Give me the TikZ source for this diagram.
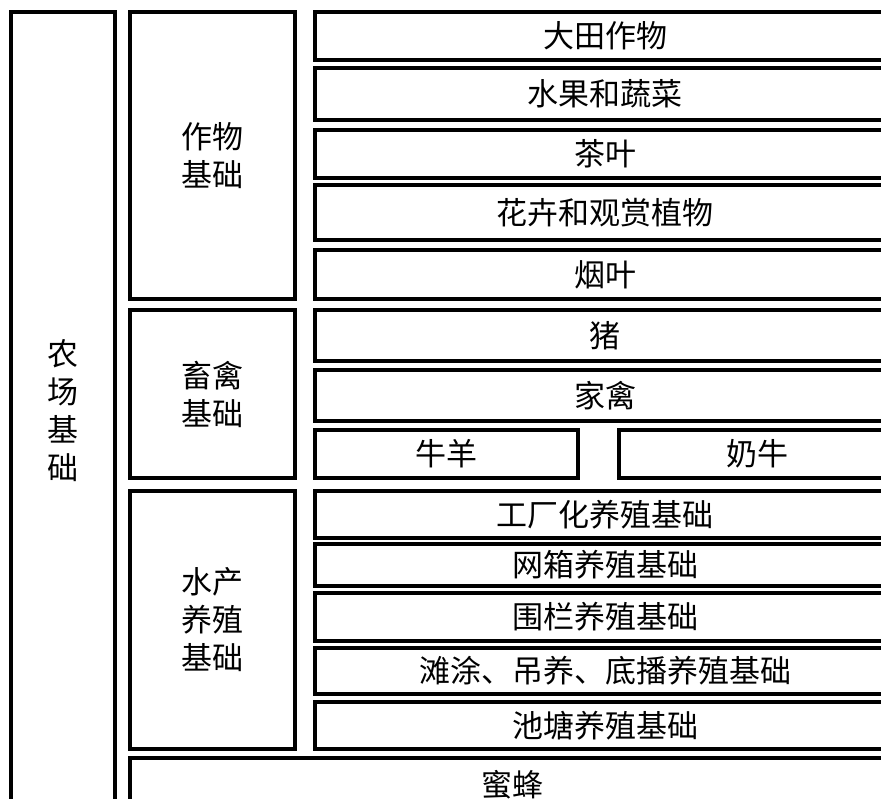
\documentclass[tikz,border=0pt]{standalone}
\usepackage{fontspec}
\newfontfamily\cjk{Noto Sans CJK SC}
\usetikzlibrary{positioning}
\tikzset{cell/.style={draw,shape=rectangle,line width=4pt,inner sep=0pt,align=center,
  font=\cjk\fontsize{31}{38}\selectfont}}

\begin{document}
\begin{tikzpicture}[x=1pt,y=-1pt]
\tikzset{every node/.style={cell}}
\useasboundingbox (0,0) rectangle (881,798);
\clip (0,0) rectangle (881,798);

\node[minimum width=104,minimum height=798] (farm) at (62.5,411) {农\\场\\基\\础};

\node[minimum width=165,minimum height=287] (crop) at (212.5,155.5) {作物\\基础};
\node[minimum width=165,minimum height=168] (stock) at (212.5,394) {畜禽\\基础};
\node[minimum width=165,minimum height=258] (aqua) at (212.5,620) {水产\\养殖\\基础};
\node[minimum width=765,minimum height=54] (bee) at (512.5,785) {蜜蜂};

\node[minimum width=580,minimum height=48] (field) at (605,36) {大田作物};
\node[minimum width=580,minimum height=52] (fruit) at (605,94) {水果和蔬菜};
\node[minimum width=580,minimum height=48] (tea) at (605,154) {茶叶};
\node[minimum width=580,minimum height=55] (flower) at (605,212.5) {花卉和观赏植物};
\node[minimum width=580,minimum height=49] (tobacco) at (605,274.5) {烟叶};

\node[minimum width=580,minimum height=51] (pig) at (605,335.5) {猪};
\node[minimum width=580,minimum height=51] (poultry) at (605,395.5) {家禽};
\node[minimum width=263,minimum height=48] (sheep) at (446.5,454) {牛羊};
\node[minimum width=276,minimum height=48] (dairy) at (757,454) {奶牛};

\node[minimum width=580,minimum height=47] (factory) at (605,514.5) {工厂化养殖基础};
\node[minimum width=580,minimum height=42] (cage) at (605,565) {网箱养殖基础};
\node[minimum width=580,minimum height=48] (pen) at (605,617) {围栏养殖基础};
\node[minimum width=580,minimum height=46] (beach) at (605,671) {滩涂、吊养、底播养殖基础};
\node[minimum width=580,minimum height=47] (pond) at (605,725.5) {池塘养殖基础};

\end{tikzpicture}
\end{document}
